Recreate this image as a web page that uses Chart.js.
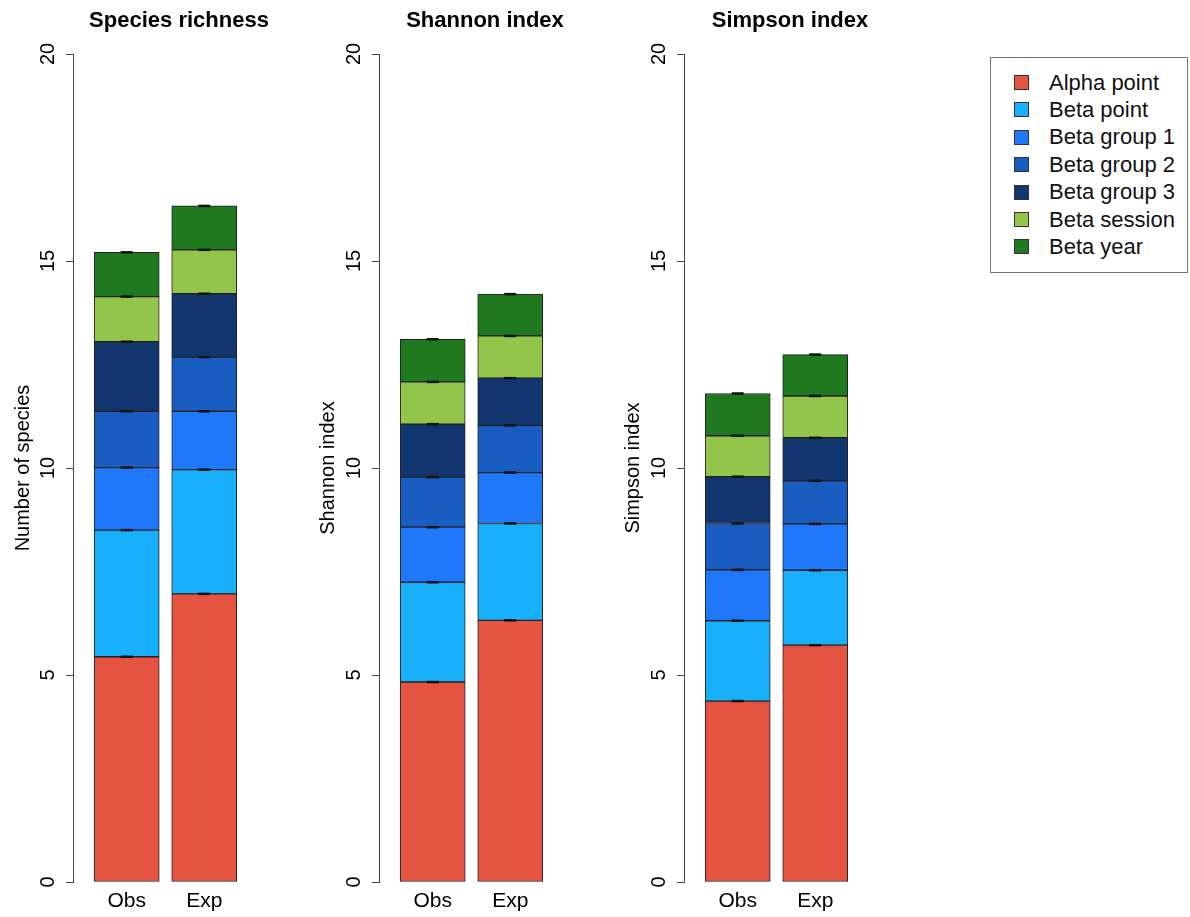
<!DOCTYPE html>
<html>
<head>
<meta charset="utf-8">
<script src="https://cdn.jsdelivr.net/npm/chart.js@4/dist/chart.umd.min.js"></script>
<style>
  html, body { margin: 0; padding: 0; background: #fff; }
  body { width: 1190px; height: 917px; position: relative; overflow: hidden; font-family: "Liberation Sans", Arial, sans-serif; }
  .panel { position: absolute; top: 0; width: 358px; height: 917px; }
  #legend { position: absolute; left: 990px; top: 57px; width: 198px; height: 216px; border: 1px solid #777; box-sizing: border-box; }
  .item { position: absolute; left: 0; height: 27px; display: flex; align-items: center; font-size: 22px; color: #111; white-space: nowrap; }
  .sw { display: inline-block; width: 13px; height: 13px; border: 1px solid #333; margin-left: 23px; margin-right: 20px; }
</style>
</head>
<body>
<canvas id="c1" class="panel" width="358" height="917" style="left:0px"></canvas>
<canvas id="c2" class="panel" width="358" height="917" style="left:306px"></canvas>
<canvas id="c3" class="panel" width="358" height="917" style="left:611px"></canvas>
<div id="legend"></div>
<script>
// ---- Data ----
const categories = ['Obs', 'Exp'];
const seriesNames = ['Alpha point', 'Beta point', 'Beta group 1', 'Beta group 2', 'Beta group 3', 'Beta session', 'Beta year'];
const seriesColors = ['#E55441', '#18B0FA', '#1F78FA', '#1A5DC0', '#12366F', '#93C54B', '#1F7A1F'];
const yTicks = [0, 5, 10, 15, 20];

// segment heights, bottom to top, per series
const richnessObs = [5.44, 3.06, 1.51, 1.36, 1.68, 1.09, 1.07];
const richnessExp = [6.96, 3.00, 1.41, 1.31, 1.53, 1.06, 1.06];
const shannonObs  = [4.83, 2.41, 1.33, 1.21, 1.28, 1.02, 1.03];
const shannonExp  = [6.32, 2.34, 1.23, 1.14, 1.14, 1.02, 1.01];
const simpsonObs  = [4.37, 1.94, 1.23, 1.12, 1.13, 0.99, 1.02];
const simpsonExp  = [5.72, 1.81, 1.12, 1.04, 1.04, 1.01, 1.00];

const panelTitles = ['Species richness', 'Shannon index', 'Simpson index'];
const axisTitles = ['Number of species', 'Shannon index', 'Simpson index'];
const panelData = [[richnessObs, richnessExp], [shannonObs, shannonExp], [simpsonObs, simpsonExp]];

// ---- Legend ----
const legend = document.getElementById('legend');
seriesNames.forEach((name, i) => {
  const row = document.createElement('div');
  row.className = 'item';
  row.style.top = (11 + i * 27.4) + 'px';
  const sw = document.createElement('span');
  sw.className = 'sw';
  sw.style.background = seriesColors[i];
  const tx = document.createElement('span');
  tx.textContent = name;
  row.appendChild(sw); row.appendChild(tx);
  legend.appendChild(row);
});

// ---- small error marks at the top of each segment ----
const errTicks = {
  id: 'errTicks',
  afterDatasetsDraw(chart) {
    const ctx = chart.ctx;
    ctx.save();
    ctx.strokeStyle = '#111';
    ctx.lineWidth = 2.5;
    chart.data.datasets.forEach((d, i) => {
      chart.getDatasetMeta(i).data.forEach(el => {
        ctx.beginPath();
        ctx.moveTo(el.x - 6, el.y);
        ctx.lineTo(el.x + 6, el.y);
        ctx.stroke();
      });
    });
    ctx.restore();
  }
};

const FONT = '"Liberation Sans", Arial, sans-serif';
const titlePadLeft = [11, 10, 10];

panelData.forEach((pd, p) => {
  const datasets = seriesNames.map((name, s) => ({
    label: name,
    data: categories.map((c, k) => ({ x: k, y: pd[k][s] })),
    backgroundColor: seriesColors[s],
    borderColor: '#222',
    borderWidth: 1,
    borderSkipped: false,
    barThickness: 65
  }));
  new Chart(document.getElementById('c' + (p + 1)), {
    type: 'bar',
    data: { datasets },
    plugins: [errTicks],
    options: {
      responsive: false,
      devicePixelRatio: 1,
      animation: false,
      layout: { padding: 0 },
      plugins: {
        legend: { display: false },
        tooltip: { enabled: false },
        title: {
          display: true,
          text: panelTitles[p],
          color: '#000',
          font: { family: FONT, size: 22, weight: 'bold' },
          padding: { top: 8, bottom: 19.6 }
        }
      },
      scales: {
        x: {
          type: 'linear',
          offset: false,
          stacked: true,
          min: -0.693,
          max: 2.984,
          afterBuildTicks: s => { s.ticks = categories.map((c, i) => ({ value: i })); },
          afterFit: s => { s.height = 35; },
          ticks: {
            callback: v => categories[v],
            color: '#000',
            font: { family: FONT, size: 21 },
            padding: 7,
            autoSkip: false,
            maxRotation: 0
          },
          grid: { display: false, drawTicks: false },
          border: { display: false }
        },
        y: {
          stacked: true,
          min: 0,
          max: 20,
          afterBuildTicks: s => { s.ticks = yTicks.map(v => ({ value: v })); },
          afterFit: s => { s.width = 73; },
          ticks: {
            minRotation: 90,
            maxRotation: 90,
            crossAlign: 'center',
            padding: 6.5,
            color: '#000',
            font: { family: FONT, size: 20 }
          },
          grid: { display: true, drawOnChartArea: false, drawTicks: true, tickLength: 7, color: '#444' },
          border: { display: true, color: '#444', width: 1 },
          title: {
            display: true,
            text: axisTitles[p],
            color: '#000',
            font: { family: FONT, size: 20 },
            padding: { top: titlePadLeft[p], bottom: 0 }
          }
        }
      }
    }
  });
});
</script>
</body>
</html>
